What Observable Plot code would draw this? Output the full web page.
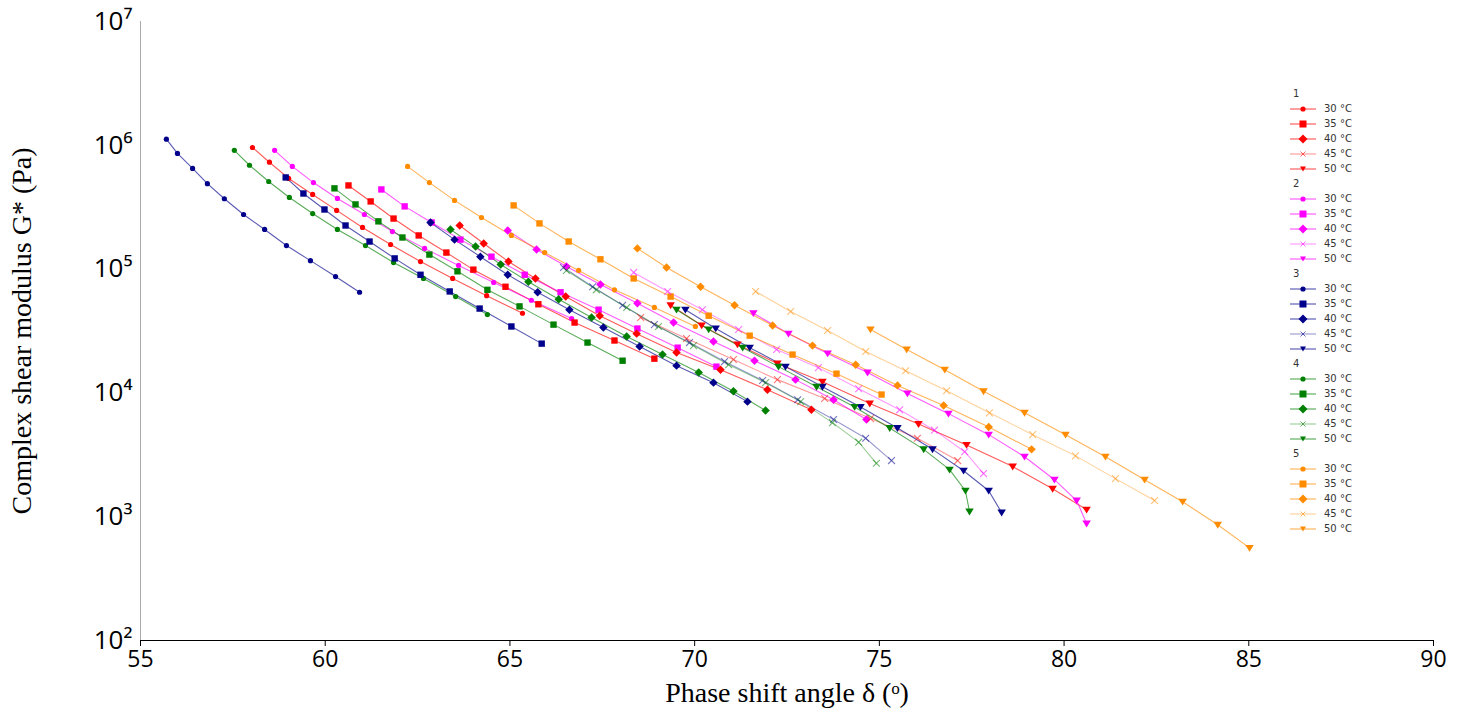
<!DOCTYPE html>
<html><head><meta charset="utf-8">
<script src="https://cdn.jsdelivr.net/npm/d3@7"></script>
<script src="https://cdn.jsdelivr.net/npm/@observablehq/plot@0.6"></script>
<style>
body{margin:0;background:#fff;}
#wrap{position:relative;width:1457px;height:721px;}
#legend{position:absolute;left:1290px;top:86px;font-family:"DejaVu Sans",sans-serif;font-size:10px;color:#333;}
#legend .h{height:15px;line-height:15px;padding-left:3px;}
#legend .r{height:15px;line-height:15px;display:flex;align-items:center;}
#legend svg{margin-right:8px;}
</style></head><body>
<div id="wrap"><div id="chart"></div><div id="legend"></div></div>
<script>
const samples = ["1","2","3","4","5"];
const temps = ["30","35","40","45","50"];
const sampleColors = ["#ff0000","#ff00ff","#00008b","#008000","#ff8c00"];

// [phase angle δ (°), G* (Pa)]
const s1_30 = [[58.03,9.6e5],[58.49,7.3e5],[59.01,5.4e5],[59.66,4.01e5],[60.31,2.98e5],[61.01,2.17e5],[61.77,1.58e5],[62.58,1.15e5],[63.45,8.4e4],[64.37,6.1e4],[65.34,4.4e4]];
const s1_35 = [[60.63,4.74e5],[61.23,3.52e5],[61.85,2.56e5],[62.53,1.87e5],[63.28,1.36e5],[64.01,9.9e4],[64.88,7.2e4],[65.77,5.2e4],[66.75,3.7e4],[67.83,2.65e4],[68.91,1.89e4]];
const s1_40 = [[63.64,2.25e5],[64.29,1.61e5],[64.96,1.15e5],[65.69,8.4e4],[66.51,6.0e4],[67.43,4.2e4],[68.43,3.01e4],[69.51,2.12e4],[70.70,1.54e4],[71.97,1.06e4],[73.16,7.3e3]];
const s1_45 = [[68.54,4.06e4],[69.78,2.75e4],[71.05,1.86e4],[72.24,1.28e4],[73.52,9.0e3],[74.76,6.2e3],[76.03,4.3e3],[77.12,2.84e3]];
const s1_50 = [[69.35,5.1e4],[70.19,3.5e4],[71.16,2.46e4],[72.24,1.73e4],[73.46,1.23e4],[74.74,8.2e3],[76.06,5.6e3],[77.36,3.8e3],[78.61,2.54e3],[79.69,1.68e3],[80.61,1.14e3]];
const s2_30 = [[58.63,9.1e5],[59.11,6.75e5],[59.68,5.0e5],[60.33,3.72e5],[61.06,2.76e5],[61.82,2.01e5],[62.69,1.47e5],[63.61,1.07e5],[64.56,7.8e4],[65.58,5.6e4],[66.67,3.99e4]];
const s2_35 = [[61.52,4.40e5],[62.15,3.21e5],[62.88,2.38e5],[63.66,1.73e5],[64.50,1.26e5],[65.40,9.0e4],[66.37,6.5e4],[67.40,4.7e4],[68.45,3.31e4],[69.54,2.32e4],[70.59,1.63e4]];
const s2_40 = [[64.94,2.05e5],[65.72,1.44e5],[66.53,1.05e5],[67.45,7.5e4],[68.45,5.3e4],[69.43,3.7e4],[70.51,2.6e4],[71.62,1.82e4],[72.73,1.28e4],[73.76,8.8e3],[74.65,6.1e3]];
const s2_45 = [[68.35,9.4e4],[69.27,6.6e4],[70.21,4.7e4],[71.19,3.25e4],[72.22,2.24e4],[73.35,1.60e4],[74.44,1.08e4],[75.55,7.3e3],[76.49,5.0e3],[77.31,3.35e3],[77.82,2.23e3]];
const s2_50 = [[71.59,4.4e4],[72.54,3.01e4],[73.60,2.08e4],[74.68,1.46e4],[75.76,9.9e3],[76.87,6.8e3],[77.96,4.6e3],[78.93,3.05e3],[79.74,1.99e3],[80.34,1.35e3],[80.61,8.8e2]];
const s3_30 = [[55.70,1.12e6],[56.00,8.6e5],[56.41,6.5e5],[56.81,4.9e5],[57.27,3.7e5],[57.79,2.76e5],[58.36,2.09e5],[58.95,1.55e5],[59.60,1.17e5],[60.28,8.7e4],[60.93,6.5e4]];
const s3_35 = [[58.93,5.5e5],[59.41,4.08e5],[59.98,3.03e5],[60.55,2.25e5],[61.20,1.67e5],[61.88,1.22e5],[62.58,9.0e4],[63.37,6.6e4],[64.18,4.8e4],[65.04,3.44e4],[65.86,2.5e4]];
const s3_40 = [[62.85,2.38e5],[63.50,1.73e5],[64.20,1.26e5],[64.94,9.0e4],[65.75,6.5e4],[66.61,4.7e4],[67.53,3.37e4],[68.51,2.37e4],[69.51,1.66e4],[70.51,1.21e4],[71.43,8.5e3]];
const s3_45 = [[66.45,1.03e5],[67.24,7.2e4],[68.05,5.1e4],[68.91,3.56e4],[69.86,2.55e4],[70.81,1.79e4],[71.84,1.26e4],[72.79,8.8e3],[73.76,6.1e3],[74.63,4.3e3],[75.33,2.84e3]];
const s3_50 = [[69.75,4.7e4],[70.57,3.31e4],[71.49,2.32e4],[72.46,1.63e4],[73.46,1.12e4],[74.49,7.7e3],[75.49,5.2e3],[76.44,3.5e3],[77.28,2.35e3],[77.96,1.62e3],[78.31,1.08e3]];
const s4_30 = [[57.54,9.1e5],[57.95,6.9e5],[58.47,5.1e5],[59.03,3.79e5],[59.66,2.81e5],[60.33,2.09e5],[61.09,1.55e5],[61.85,1.13e5],[62.66,8.4e4],[63.53,6.0e4],[64.39,4.3e4]];
const s4_35 = [[60.25,4.49e5],[60.82,3.33e5],[61.44,2.43e5],[62.09,1.80e5],[62.82,1.31e5],[63.58,9.6e4],[64.39,6.8e4],[65.26,5.0e4],[66.18,3.56e4],[67.10,2.55e4],[68.05,1.82e4]];
const s4_40 = [[63.39,2.09e5],[64.07,1.52e5],[64.75,1.09e5],[65.50,7.9e4],[66.32,5.7e4],[67.21,4.06e4],[68.16,2.85e4],[69.13,2.04e4],[70.11,1.46e4],[71.05,1.03e4],[71.92,7.2e3]];
const s4_45 = [[66.53,9.75e4],[67.34,6.8e4],[68.16,4.9e4],[69.02,3.44e4],[69.97,2.41e4],[70.92,1.69e4],[71.92,1.21e4],[72.87,8.5e3],[73.73,5.75e3],[74.44,4.0e3],[74.92,2.7e3]];
const s4_50 = [[69.51,4.7e4],[70.38,3.25e4],[71.30,2.32e4],[72.27,1.63e4],[73.30,1.12e4],[74.33,7.7e3],[75.28,5.2e3],[76.20,3.5e3],[76.90,2.4e3],[77.33,1.62e3],[77.44,1.10e3]];
const s5_30 = [[62.23,6.75e5],[62.82,5.0e5],[63.50,3.59e5],[64.23,2.61e5],[65.04,1.87e5],[65.94,1.36e5],[66.86,9.75e4],[67.83,6.8e4],[68.91,4.9e4],[70.02,3.44e4]];
const s5_35 = [[65.10,3.27e5],[65.80,2.34e5],[66.59,1.67e5],[67.45,1.20e5],[68.35,8.4e4],[69.35,6.0e4],[70.38,4.2e4],[71.49,2.9e4],[72.65,2.04e4],[73.84,1.43e4],[75.06,9.7e3]];
const s5_40 = [[68.45,1.47e5],[69.24,1.03e5],[70.16,7.2e4],[71.08,5.1e4],[72.11,3.5e4],[73.19,2.41e4],[74.36,1.69e4],[75.49,1.15e4],[76.74,7.9e3],[77.96,5.3e3],[79.12,3.5e3]];
const s5_45 = [[71.65,6.6e4],[72.60,4.54e4],[73.60,3.19e4],[74.63,2.16e4],[75.71,1.51e4],[76.82,1.04e4],[77.98,6.9e3],[79.15,4.6e3],[80.31,3.1e3],[81.39,2.03e3],[82.45,1.35e3]];
const s5_50 = [[74.76,3.25e4],[75.74,2.24e4],[76.77,1.54e4],[77.82,1.03e4],[78.93,6.9e3],[80.04,4.6e3],[81.12,3.05e3],[82.18,1.99e3],[83.21,1.32e3],[84.16,8.6e2],[85.02,5.6e2]];

const xTicks = [55,60,65,70,75,80,85,90];
const yTicks = [1e2,1e3,1e4,1e5,1e6,1e7];
const yTickLabels = ["10²","10³","10⁴","10⁵","10⁶","10⁷"];

const series = {s1_30,s1_35,s1_40,s1_45,s1_50,s2_30,s2_35,s2_40,s2_45,s2_50,s3_30,s3_35,s3_40,s3_45,s3_50,s4_30,s4_35,s4_40,s4_45,s4_50,s5_30,s5_35,s5_40,s5_45,s5_50};

const triDown = {draw(ctx, size){const h=Math.sqrt(size)*0.75; ctx.moveTo(-h,-h*0.7); ctx.lineTo(h,-h*0.7); ctx.lineTo(0,h*0.9); ctx.closePath();}};
const symbolOf = {"30":"circle","35":"square","40":"diamond2","45":"times","50":triDown};
const rOf = {"30":2.6,"35":3.6,"40":3.8,"45":3.2,"50":3.2};

const rows = [];
samples.forEach((s,i)=>temps.forEach(t=>{
  series[`s${s}_${t}`].forEach(([x,g])=>rows.push({id:`${s}-${t}`,s,t,x,g,color:sampleColors[i]}));
}));

const marks = [
  Plot.ruleY([1e2],{stroke:"#000"}),
  Plot.ruleX([55],{stroke:"#aaa"}),
  Plot.line(rows,{x:"x",y:"g",z:"id",stroke:"color",strokeWidth:1.1,strokeOpacity:d=>d.t==="45"?0.4:0.65}),
];
temps.forEach(t=>{
  const sub = rows.filter(d=>d.t===t);
  if (t==="45") marks.push(Plot.dot(sub,{x:"x",y:"g",stroke:"color",strokeOpacity:0.55,strokeWidth:1.1,symbol:()=>"times",r:rOf[t]}));
  else marks.push(Plot.dot(sub,{x:"x",y:"g",fill:"color",symbol:()=>symbolOf[t],r:rOf[t]}));
});

const chart = Plot.plot({
  width:1457, height:721,
  marginLeft:140, marginRight:24, marginTop:21, marginBottom:81,
  style:{fontFamily:"'Open Sans',sans-serif",background:"#fff"},
  x:{domain:[55,90],ticks:xTicks,tickSize:6,label:null,tickFormat:d=>d},
  y:{type:"log",domain:[1e2,1e7],ticks:yTicks,tickSize:0,label:null,tickFormat:d=>yTickLabels[yTicks.indexOf(d)]},
  symbol:{type:"identity"},
  color:{type:"identity"},
  marks:[
    Plot.axisX({ticks:xTicks,tickSize:6,fontSize:23,tickPadding:4,tickFormat:d=>d}),
    Plot.axisY({ticks:yTicks,tickSize:0,fontSize:26,tickPadding:8,tickFormat:d=>yTickLabels[yTicks.indexOf(d)]}),
    ...marks,
    Plot.text(["Complex shear modulus G* (Pa)"],{frameAnchor:"left",textAnchor:"middle",dx:-118,rotate:-90,fontSize:28,fontFamily:"'Liberation Serif',serif",fill:"#000"}),
    Plot.text(["Phase shift angle δ (ᵒ)"],{frameAnchor:"bottom",lineAnchor:"middle",dy:53,fontSize:28,fontFamily:"'Liberation Serif',serif",fill:"#000"})
  ]
});
document.getElementById("chart").append(chart);

// legend
const lg = document.getElementById("legend");
const shapeSvg = (t,c)=>{
  const op = t==="45"?0.45:0.75;
  let m="";
  if(t==="30") m=`<circle cx="13" cy="6" r="2.6" fill="${c}"/>`;
  if(t==="35") m=`<rect x="9.5" y="2.5" width="7" height="7" fill="${c}"/>`;
  if(t==="40") m=`<path d="M13 1.5L17.5 6L13 10.5L8.5 6Z" fill="${c}"/>`;
  if(t==="45") m=`<path d="M10.5 3.5L15.5 8.5M15.5 3.5L10.5 8.5" stroke="${c}" stroke-opacity="0.6"/>`;
  if(t==="50") m=`<path d="M10 3.5L16 3.5L13 8.5Z" fill="${c}"/>`;
  return `<svg width="26" height="12"><line x1="0" x2="26" y1="6" y2="6" stroke="${c}" stroke-opacity="${op}"/>${m}</svg>`;
};
samples.forEach((s,i)=>{
  const h=document.createElement("div"); h.className="h"; h.textContent=s; lg.append(h);
  temps.forEach(t=>{
    const r=document.createElement("div"); r.className="r";
    r.innerHTML=shapeSvg(t,sampleColors[i])+`<span>${t} °C</span>`; lg.append(r);
  });
});
</script></body></html>
